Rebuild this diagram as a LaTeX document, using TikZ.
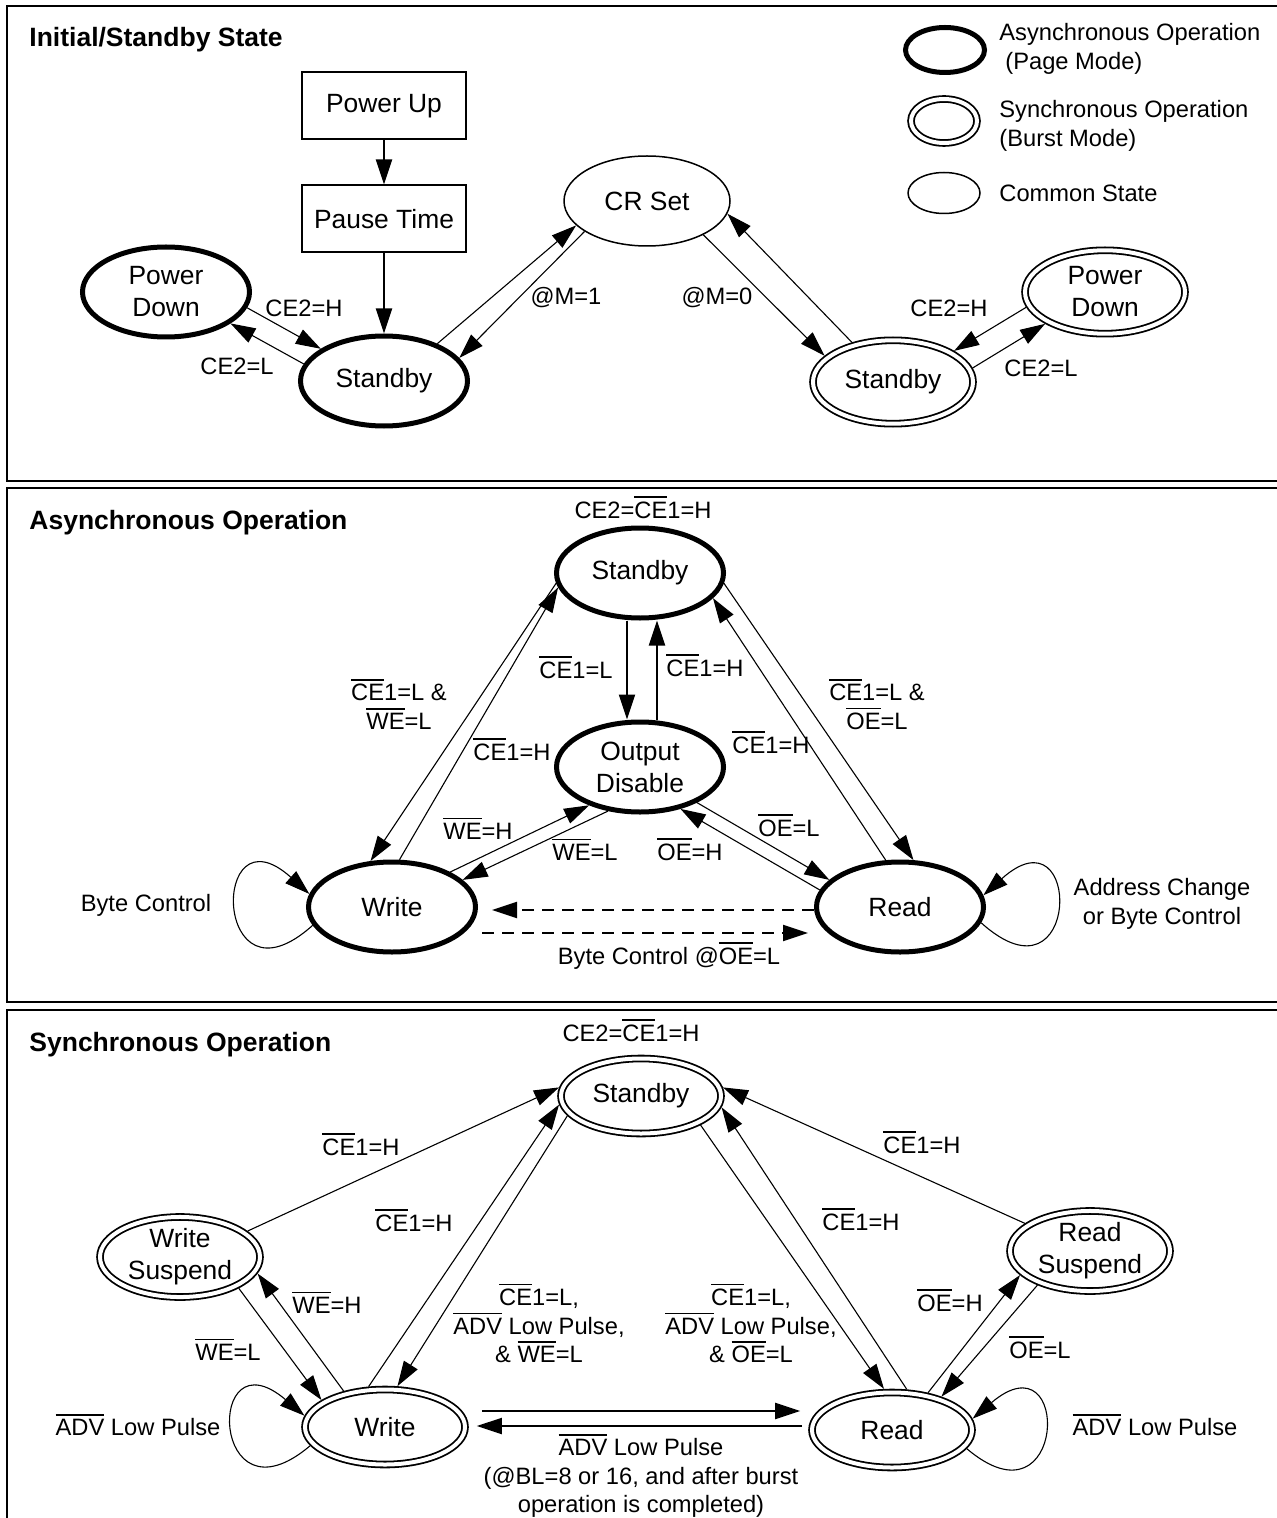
\documentclass[tikz,border=0pt]{standalone}
\usepackage{fontspec}
\setmainfont{Liberation Sans}
\usetikzlibrary{arrows.meta,shapes.geometric,calc}
\newcommand\statefont{\fontsize{13.2pt}{16pt}\selectfont}
\newcommand\lblfont{\fontsize{11.85pt}{14.3pt}\selectfont}
\newcommand\headfont{\fontsize{13.25pt}{16pt}\selectfont\bfseries}
\newsavebox\ovlbox
\newcommand\ovl[1]{\sbox\ovlbox{#1}\rlap{\raisebox{\dimexpr\ht\ovlbox+1.8pt\relax}[0pt][0pt]{\rule{\wd\ovlbox}{0.8pt}}}\usebox\ovlbox}
\tikzset{
    every picture/.style={line cap=butt,line join=miter},
    asyncstate/.style={ellipse,draw,line width=2.5pt,minimum width=83.5pt,
      minimum height=45pt,inner sep=0pt,font=\statefont,align=center},
    syncstate/.style={ellipse,draw,double,double distance=2pt,line width=0.9pt,
      minimum width=80pt,minimum height=37.5pt,inner sep=0pt,outer sep=1.9pt,
      font=\statefont,align=center},
    commonstate/.style={ellipse,draw,line width=0.75pt,minimum width=83pt,
      minimum height=45pt,inner sep=0pt,font=\statefont},
    stepbox/.style={rectangle,draw,line width=1pt,minimum width=82pt,
      minimum height=33.5pt,inner sep=0pt,font=\statefont},
    lbl/.style={font=\lblfont,align=center,inner sep=0pt},
    paneltitle/.style={font=\headfont,anchor=base west,inner sep=0pt},
    trans/.style={->,line width=0.55pt},
    heavytrans/.style={->,line width=1pt},
    dashtrans/.style={->,line width=1pt,dash pattern=on 6pt off 4pt},
    panel/.style={draw,line width=1.2pt}
}

\begin{document}
\begin{tikzpicture}[x=0.5pt,y=-0.5pt,>={Triangle[length=12.5pt,width=8pt]}]
  \useasboundingbox (0,0) rectangle (1276,1518);
  \foreach \ya/\yb in {6/481,488/1002,1010/1540}
    \draw[panel] (7,\ya) rectangle (1300,\yb);

  % initial / standby state
  \node[paneltitle] (t1) at (29,46.5) {Initial/Standby State};
  \node[stepbox] (pwrup) at (384,106) {Power Up};
  \node[stepbox] (pause) at (384,219) {Pause Time};
  \node[asyncstate] (pdA) at (166,292) {Power\\Down};
  \node[asyncstate] (sbA) at (384,381) {Standby};
  \node[commonstate] (crset) at (647,201) {CR Set};
  \node[syncstate,minimum height=41.7pt] (sbS) at (893,382) {Standby};
  \node[syncstate,minimum height=41.7pt] (pdS) at (1105,292) {Power\\Down};

  \node[asyncstate,minimum width=39.5pt,minimum height=22.5pt] (keyA) at (945,50) {};
  \node[syncstate,minimum width=33pt,minimum height=22pt] (keyS) at (944,121) {};
  \node[commonstate,minimum width=36pt,minimum height=20.5pt] (keyC) at (944,193) {};
  \node[lbl,anchor=west,align=left] (keyAtxt) at (999,49) {Asynchronous Operation\\\hspace{3pt}(Page Mode)};
  \node[lbl,anchor=west,align=left] (keyStxt) at (999,126) {Synchronous Operation\\(Burst Mode)};
  \node[lbl,anchor=west] (keyCtxt) at (999,193) {Common State};

  \draw[heavytrans] (pwrup) -- (pause);
  \draw[heavytrans] (pause) -- (sbA);
  \draw[trans] (pdA.-11) -- (sbA.153);
  \draw[trans] (sbA.168) -- (pdA.-26);
  \draw[trans] (sbA.35) -- (crset.199);
  \draw[trans] (crset.206) -- (sbA.17);
  \draw[trans] (crset.-31) -- (sbS.159);
  \draw[trans] (sbS.136) -- (crset.-9);
  \draw[trans] (pdS.191) -- (sbS.27);
  \draw[trans] (sbS.10) -- (pdS.208);

  \node[lbl] (lpdh) at (304,308) {CE2=H};
  \node[lbl] (lpdl) at (237,366) {CE2=L};
  \node[lbl] (lm1) at (566,298) {@M=1};
  \node[lbl] (lm0) at (717,298) {@M=0};
  \node[lbl] (lsdh) at (949,308) {CE2=H};
  \node[lbl] (lsdl) at (1041,368) {CE2=L};

  % asynchronous operation
  \node[paneltitle] (t2) at (29,529.5) {Asynchronous Operation};
  \node[lbl] (top2) at (643,510) {CE2=\ovl{CE}1=H};
  \node[asyncstate] (sb2) at (640,573) {Standby};
  \node[asyncstate] (od) at (640,767) {Output\\Disable};
  \node[asyncstate] (wr2) at (392,907) {Write};
  \node[asyncstate] (rd2) at (900,907) {Read};

  \draw[trans] (sb2.187) -- (wr2.115);
  \draw[trans] (wr2.81) -- (sb2.190);
  \draw[heavytrans] ([xshift=-6.5pt]sb2.south) -- ([xshift=-6.5pt]od.north);
  \draw[heavytrans] ([xshift=8.5pt]od.north) -- ([xshift=8.5pt]sb2.south);
  \draw[trans] (sb2.-7) -- (rd2.74);
  \draw[trans] (rd2.107) -- (sb2.-19);
  \draw[trans] (wr2.31) -- (od.217);
  \draw[trans] (od.234) -- (wr2.21);
  \draw[trans] (od.-32) -- (rd2.159);
  \draw[trans] (rd2.168) -- (od.-46);
  \draw[dashtrans,shorten >=7pt] ([yshift=-1.5pt]rd2.west) -- ([yshift=-1.5pt]wr2.east);
  \draw[dashtrans,shorten <=2pt,shorten >=3pt] ([yshift=-13pt]wr2.east) -- ([yshift=-13pt]wr2.east -| rd2.west);
  \draw[trans] (wr2.193) .. controls +(-100,90) and +(-100,-90) .. (wr2.171);
  \draw[trans] (rd2.-11) .. controls +(100,90) and +(100,-90) .. (rd2.8);

  \node[lbl] (lwrl) at (399,707) {\ovl{CE}1=L \&\\\ovl{WE}=L};
  \node[lbl] (lwrh) at (512,752) {\ovl{CE}1=H};
  \node[lbl] (lodl) at (576,670) {\ovl{CE}1=L};
  \node[lbl] (lodh) at (705,668) {\ovl{CE}1=H};
  \node[lbl] (lrdh) at (771,745) {\ovl{CE}1=H};
  \node[lbl] (lrdl) at (877,707) {\ovl{CE}1=L \&\\\ovl{OE}=L};
  \node[lbl] (lweh) at (478,831) {\ovl{WE}=H};
  \node[lbl] (lwel) at (585,852) {\ovl{WE}=L};
  \node[lbl] (loel) at (789,828) {\ovl{OE}=L};
  \node[lbl] (loeh) at (690,852) {\ovl{OE}=H};
  \node[lbl] (lbc) at (146,905) {Byte Control};
  \node[lbl] (lac) at (1162,904) {Address Change\\or Byte Control};
  \node[lbl] (lbco) at (669,958) {Byte Control @\ovl{OE}=L};

  % synchronous operation
  \node[paneltitle] (t3) at (29,1051.5) {Synchronous Operation};
  \node[lbl] (top3) at (631,1033) {CE2=\ovl{CE}1=H};
  \node[syncstate] (sb3) at (641,1096) {Standby};
  \node[syncstate] (ws) at (180,1257) {Write\\Suspend};
  \node[syncstate] (rs) at (1090,1251) {Read\\Suspend};
  \node[syncstate] (wr3) at (385,1427) {Write};
  \node[syncstate] (rd3) at (892,1430) {Read};

  \draw[trans] (ws.21) -- (sb3.174);
  \draw[trans] (rs.157) -- (sb3.6);
  \draw[trans] (wr3.112) -- (sb3.186);
  \draw[trans] (sb3.195) -- (wr3.73);
  \draw[trans] (sb3.-26) -- (rd3.101);
  \draw[trans] (rd3.70) -- (sb3.-8);
  \draw[trans] (ws.-28) -- (wr3.157);
  \draw[trans] (wr3.139) -- (ws.-12);
  \draw[trans] (rd3.46) -- (rs.199);
  \draw[trans] (rs.213) -- (rd3.34);
  \draw[heavytrans,shorten <=6.5pt,shorten >=4pt] ([yshift=8pt]wr3.east) -- ([yshift=8pt]wr3.east -| rd3.west);
  \draw[heavytrans,shorten <=3pt,shorten >=4pt] ([yshift=0.5pt]wr3.east -| rd3.west) -- ([yshift=0.5pt]wr3.east);
  \draw[trans] (wr3.194) .. controls +(-100,85) and +(-100,-85) .. (wr3.172);
  \draw[trans] (rd3.-14) .. controls +(100,85) and +(100,-85) .. (rd3.8);

  \node[lbl] (lwsh) at (361,1147) {\ovl{CE}1=H};
  \node[lbl] (lwrh3) at (414,1223) {\ovl{CE}1=H};
  \node[lbl] (lrsh) at (922,1145) {\ovl{CE}1=H};
  \node[lbl] (lrdh3) at (861,1222) {\ovl{CE}1=H};
  \node[lbl] (lwrl3) at (539,1326) {\ovl{CE}1=L,\\\ovl{ADV} Low Pulse,\\\& \ovl{WE}=L};
  \node[lbl] (lrdl3) at (751,1326) {\ovl{CE}1=L,\\\ovl{ADV} Low Pulse,\\\& \ovl{OE}=L};
  \node[lbl] (lweh3) at (327,1305) {\ovl{WE}=H};
  \node[lbl] (lwel3) at (228,1352) {\ovl{WE}=L};
  \node[lbl] (loeh3) at (950,1303) {\ovl{OE}=H};
  \node[lbl] (loel3) at (1040,1350) {\ovl{OE}=L};
  \node[lbl] (ladvw) at (138,1427) {\ovl{ADV} Low Pulse};
  \node[lbl] (ladvr) at (1155,1427) {\ovl{ADV} Low Pulse};
  \node[lbl] (lburst) at (641,1478) {\ovl{ADV} Low Pulse\\(@BL=8 or 16, and after burst\\operation is completed)};
\end{tikzpicture}
\end{document}
